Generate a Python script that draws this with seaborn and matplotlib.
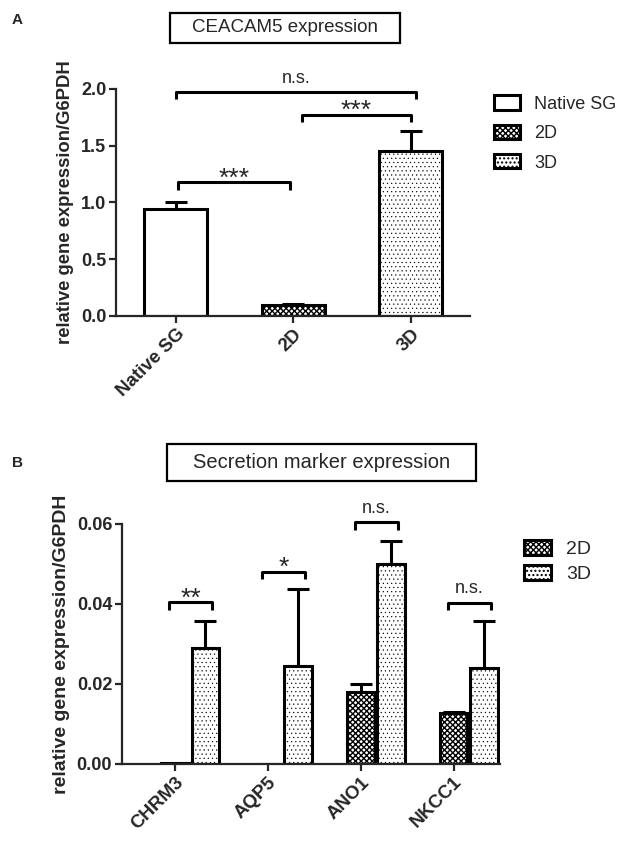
import numpy as np
import pandas as pd
import seaborn as sns
import matplotlib.pyplot as plt
import matplotlib.patches as mpatches

# panel A: CEACAM5
groups_a = ['Native SG', '2D', '3D']
mean_a = [0.94, 0.097, 1.455]
err_a = [0.06, 0.013, 0.175]
sig_a = [('Native SG', '2D', '***', 1.176),
         ('2D', '3D', '***', 1.774),
         ('Native SG', '3D', 'n.s.', 1.97)]

# panel B: secretion markers
genes = ['CHRM3', 'AQP5', 'ANO1', 'NKCC1']
conds = ['2D', '3D']
mean_2d = [0.0002, 0.0001, 0.0181, 0.0127]
err_2d = [0.0, 0.0, 0.0018, 0.0003]
mean_3d = [0.0289, 0.0244, 0.0501, 0.0241]
err_3d = [0.0068, 0.0194, 0.0057, 0.0116]
sig_b = ['**', '*', 'n.s.', 'n.s.']
sig_b_y = [0.0404, 0.0481, 0.0604, 0.0402]

hatches = {'Native SG': '', '2D': 'xxxxxx', '3D': '....'}
hatch_lw = {'Native SG': 1.0, '2D': 1.0, '3D': 0.35}

sns.set_style('ticks')
plt.rcParams['font.family'] = ['Liberation Sans', 'DejaVu Sans']
plt.rcParams['hatch.linewidth'] = 1.0
plt.rcParams['axes.linewidth'] = 1.6
LW = 2.2
TICK_FS = 13

fig = plt.figure(figsize=(6.25, 8.44), dpi=100)
axA = fig.add_axes([0.1856, 0.6256, 0.566, 0.269])
axB = fig.add_axes([0.195, 0.0948, 0.605, 0.2844])


def set_fill(patch, key):
    patch.set_hatch(hatches[key])
    if hasattr(patch, 'set_hatch_linewidth'):
        patch.set_hatch_linewidth(hatch_lw[key])


def add_errors(ax, bars, errs):
    for bar, e in zip(bars, errs):
        cx = bar.get_x() + bar.get_width() / 2
        top = bar.get_height()
        if e > 0:
            ax.errorbar(cx, top, yerr=[[0], [e]], color='black', lw=LW,
                        capsize=8, capthick=LW, zorder=1)


def bracket(ax, x1, x2, y, h, label):
    ax.plot([x1, x1, x2, x2], [y - h, y, y, y - h], color='black', lw=LW,
            clip_on=False, solid_capstyle='butt')
    if label == 'n.s.':
        fs, off = 13, 7
    else:
        fs, off = 19, -2.5
    ax.annotate(label, xy=((x1 + x2) / 2, y), xytext=(0, off),
                textcoords='offset points', ha='center', va='baseline',
                fontsize=fs, annotation_clip=False)


# ---- panel A
df_a = pd.DataFrame({'group': groups_a, 'value': mean_a})
sns.barplot(data=df_a, x='group', y='value', hue='group',
            palette=['white'] * 3, edgecolor='black', linewidth=LW,
            width=0.536, errorbar=None, legend=False, ax=axA, zorder=2)
for bar, g in zip(axA.patches, groups_a):
    set_fill(bar, g)
add_errors(axA, axA.patches, err_a)
for g1, g2, lab, y in sig_a:
    x1, x2 = groups_a.index(g1), groups_a.index(g2)
    if lab == '***' and g1 == '2D':
        x1 += 0.07
    if lab == '***' and g2 == '2D':
        x1 += 0.02
        x2 -= 0.03
    if lab == 'n.s.':
        x2 += 0.04
    bracket(axA, x1, x2, y, 0.062, lab)

axA.set_xlim(-0.51, 2.5)
axA.set_ylim(0, 2.0)
axA.set_yticks([0, 0.5, 1.0, 1.5, 2.0])
axA.set_yticklabels(['%.1f' % t for t in [0, 0.5, 1.0, 1.5, 2.0]])
axA.set_xlabel('')
axA.set_ylabel('relative gene expression/G6PDH', fontsize=13.3, fontweight='bold',
               labelpad=5)
axA.tick_params(axis='both', width=1.6, length=5, labelsize=TICK_FS, pad=2)
for lab in axA.get_yticklabels():
    lab.set_fontweight('bold')
axA.set_xticks(range(len(groups_a)))
axA.set_xticklabels(groups_a, rotation=45, ha='right', rotation_mode='anchor',
                    fontweight='bold', fontsize=13.5)
sns.despine(ax=axA)

handles_a = [mpatches.Patch(facecolor='white', edgecolor='black', lw=LW,
                            hatch=hatches[g], label=g) for g in groups_a]
for h, g in zip(handles_a, groups_a):
    set_fill(h, g)
fig.legend(handles=handles_a, loc='upper left', bbox_to_anchor=(0.790, 0.887),
           frameon=False, fontsize=13, handlelength=1.45, handleheight=0.83,
           handletextpad=0.78, labelspacing=0.67, borderpad=0, borderaxespad=0)

# ---- panel B
df_b = pd.DataFrame({
    'gene': genes * 2,
    'cond': ['2D'] * len(genes) + ['3D'] * len(genes),
    'value': mean_2d + mean_3d,
})
sns.barplot(data=df_b, x='gene', y='value', hue='cond', hue_order=conds,
            palette=['white', 'white'], edgecolor='black', linewidth=LW,
            width=0.66, gap=0.09, errorbar=None, legend=False, ax=axB, zorder=2)
for cont, c in zip(axB.containers, conds):
    for bar in cont:
        set_fill(bar, c)
add_errors(axB, axB.containers[0], err_2d)
add_errors(axB, axB.containers[1], err_3d)

centers_2d = [b.get_x() + b.get_width() / 2 for b in axB.containers[0]]
centers_3d = [b.get_x() + b.get_width() / 2 for b in axB.containers[1]]
for x1, x2, lab, y in zip(centers_2d, centers_3d, sig_b, sig_b_y):
    bracket(axB, x1 - 0.06, x2 + 0.07, y, 0.0018, lab)

axB.set_xlim(centers_2d[0] - 0.57, centers_2d[-1] + 0.5)
axB.set_ylim(0, 0.06)
axB.set_yticks([0, 0.02, 0.04, 0.06])
axB.set_yticklabels(['%.2f' % t for t in [0, 0.02, 0.04, 0.06]])
axB.set_xlabel('')
axB.set_ylabel('relative gene expression/G6PDH', fontsize=14, fontweight='bold',
               labelpad=5)
axB.tick_params(axis='both', width=1.6, length=5, labelsize=TICK_FS, pad=2)
for lab in axB.get_yticklabels():
    lab.set_fontweight('bold')
axB.set_xticks(centers_2d)
axB.set_xticklabels(genes, rotation=45, ha='right', rotation_mode='anchor',
                    fontweight='bold', fontsize=13.5)
sns.despine(ax=axB)

handles_b = [mpatches.Patch(facecolor='white', edgecolor='black', lw=LW,
                            hatch=hatches[c], label=c) for c in conds]
for h, c in zip(handles_b, conds):
    set_fill(h, c)
fig.legend(handles=handles_b, loc='upper left', bbox_to_anchor=(0.838, 0.360),
           frameon=False, fontsize=14, handlelength=1.4, handleheight=0.8,
           handletextpad=0.77, labelspacing=0.34, borderpad=0, borderaxespad=0)

# ---- title boxes and panel letters
W, H = 625.0, 844.0
for (x0, y0, x1, y1), txt, fs in [((170, 13, 400, 43), 'CEACAM5 expression', 13.5),
                                  ((167, 444, 476, 481), 'Secretion marker expression', 14.5)]:
    fig.add_artist(mpatches.Rectangle((x0 / W, 1 - y1 / H), (x1 - x0) / W,
                                      (y1 - y0) / H, transform=fig.transFigure,
                                      facecolor='white', edgecolor='black', lw=1.6))
    fig.text((x0 + x1) / 2 / W, 1 - (y0 + y1) / 2 / H, txt, ha='center',
             va='center', fontsize=fs)
fig.text(12 / W, 1 - 20 / H, 'A', fontsize=11, fontweight='bold', va='center')
fig.text(12 / W, 1 - 463 / H, 'B', fontsize=11, fontweight='bold', va='center')

fig.savefig('out.png', dpi=100)
